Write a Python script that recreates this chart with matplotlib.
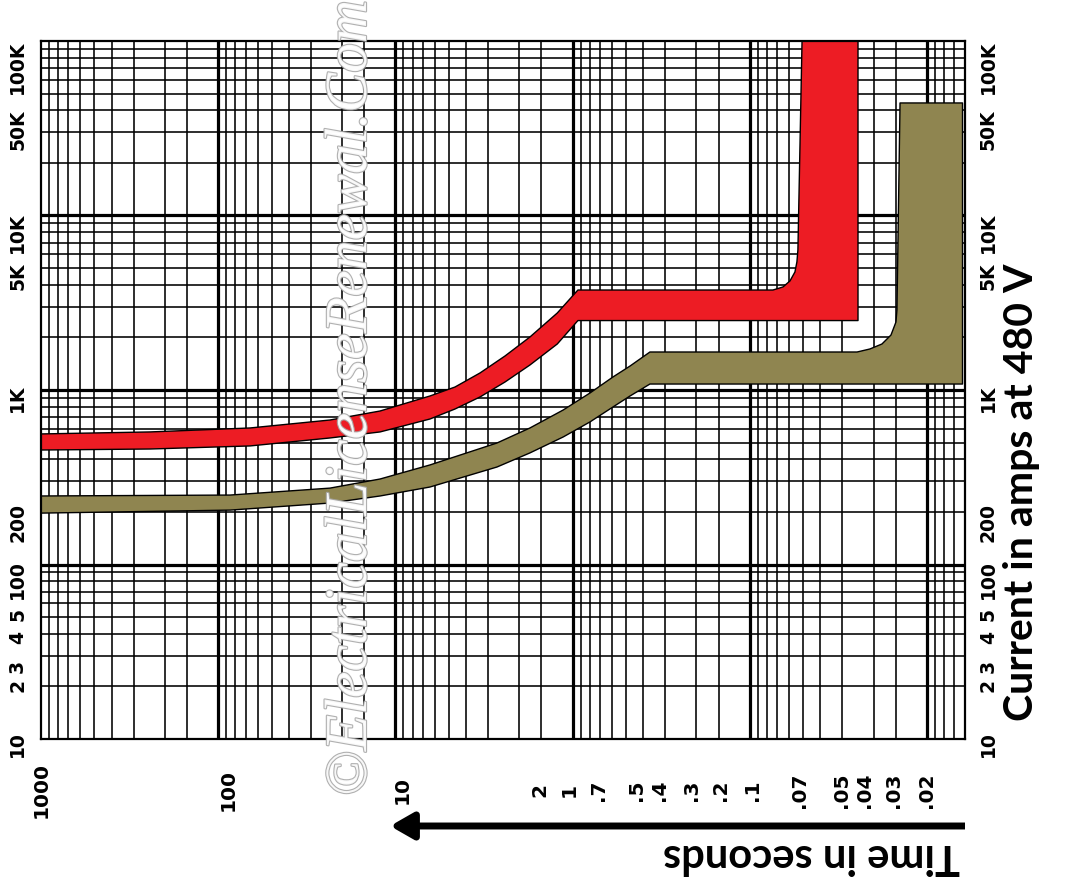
import matplotlib
matplotlib.use("Agg")
import matplotlib.pyplot as plt
import matplotlib.patheffects as pe
from matplotlib.patches import FancyArrowPatch
from matplotlib.ticker import NullLocator

# ---------------- data (time in s, current in A) ----------------
red_upper_t = [1000, 242.6, 66.1, 23.4, 12.2, 6.38, 4.61, 3.33, 2.407, 1.74, 1.22, 0.933,
               0.074, 0.065, 0.0593, 0.0556, 0.0542, 0.0535, 0.0507]
red_upper_i = [560, 575, 606, 673, 758, 924, 1040, 1252, 1566, 2013, 2762, 3741,
               3741, 3893, 4217, 4747, 5417, 6345, 100000]
red_lower_t = [1000, 242.6, 66.1, 23.4, 12.2, 6.38, 4.61, 3.33, 2.407, 1.74, 1.22, 0.933,
               0.0245, 0.0245]
red_lower_i = [453, 459, 478, 531, 575, 682, 778, 912, 1111, 1391, 1835, 2500,
               2500, 100000]

olive_upper_t = [1000, 85.7, 23.4, 12.2, 6.38, 2.67, 1.74, 1.13, 0.798, 0.592, 0.474, 0.366,
                 0.0248, 0.0210, 0.01795, 0.01596, 0.01496, 0.01477, 0.01419]
olive_upper_i = [247, 250, 274, 309, 372, 497, 606, 768, 961, 1187, 1372, 1651,
                 1651, 1718, 1835, 2066, 2453, 2873, 44150]
olive_lower_t = [1000, 85.7, 23.4, 12.2, 6.38, 2.67, 1.74, 1.13, 0.798, 0.592, 0.474, 0.366,
                 0.0063, 0.0063]
olive_lower_i = [197, 205, 225, 247, 278, 362, 436, 538, 656, 799, 924, 1082,
                 1082, 44150]

# tick labels (placed where they appear on the source chart)
time_tick_pos = [1000, 88, 9.18, 1.53, 1.047, 0.71, 0.433, 0.325, 0.212, 0.1455,
                 0.0959, 0.0521, 0.0302, 0.0224, 0.01535, 0.0100]
time_tick_labels = ["1000", "100", "10", "2", "1", ".7", ".5", ".4", ".3", ".2",
                    ".1", ".07", ".05", ".04", ".03", ".02"]
current_tick_pos = [10.1, 19.9, 25.9, 37.9, 50.7, 95.5, 205, 974, 4870, 9420, 36700, 91200]
current_tick_labels = ["10", "2", "3", "4", "5", "100", "200", "1K", "5K", "10K", "50K", "100K"]

RED = "#ED1C24"
OLIVE = "#8F8550"

W, H = 1067, 890
fig = plt.figure(figsize=(W / 100, H / 100), dpi=100)
fig.patch.set_facecolor("white")
L, R, T, B = 41, 965, 41, 739
ax = fig.add_axes([L / W, 1 - B / H, (R - L) / W, (B - T) / H])
ax.set_xscale("log")
ax.set_yscale("log")
ax.set_xlim(1000, 0.0061)
ax.set_ylim(10, 100000)

# log-paper grid
t_lo, t_hi = 0.0061, 1000
for e in range(-3, 3):
    for m in [1, 1.5, 2, 3, 4, 5, 6, 7, 8, 9]:
        v = m * 10.0 ** e
        if t_lo < v < t_hi:
            ax.axvline(v, color="black", lw=2.3 if m == 1 else 1.15, zorder=1)
for e in range(1, 5):
    for m in range(1, 10):
        v = m * 10.0 ** e
        if 10 < v < 100000:
            ax.axhline(v, color="black", lw=2.3 if m == 1 else 1.15, zorder=1)

# bands
for ut, ui, lt, li, col in [
    (red_upper_t, red_upper_i, red_lower_t, red_lower_i, RED),
    (olive_upper_t, olive_upper_i, olive_lower_t, olive_lower_i, OLIVE),
]:
    xs = list(ut) + list(lt)[::-1]
    ys = list(ui) + list(li)[::-1]
    ax.fill(xs, ys, facecolor=col, edgecolor="black", lw=1.0, zorder=3,
            joinstyle="round")

for s in ax.spines.values():
    s.set_linewidth(1.6)
    s.set_zorder(5)

ax.xaxis.set_minor_locator(NullLocator())
ax.yaxis.set_minor_locator(NullLocator())
ax.set_xticks(time_tick_pos)
ax.set_xticklabels(time_tick_labels)
ax.set_yticks(current_tick_pos)
ax.set_yticklabels(current_tick_labels)
ax.tick_params(axis="x", length=0, pad=37, labelrotation=90, labelsize=14.5)
ax.tick_params(axis="y", length=0, pad=10, labelrotation=90, labelsize=13.5,
               labelleft=True, labelright=True)
for lab in ax.get_xticklabels():
    lab.set_fontweight("bold")
    lab.set_va("center")
for lab in ax.get_yticklabels():
    lab.set_fontweight("bold")

# axis titles
fig.text(1021 / W, 1 - 492 / H, "Current in amps at 480 V", rotation=90,
         ha="center", va="center", fontsize=29.5, fontweight="bold", family="Lato")
fig.text(812 / W, 1 - 856 / H, "Time in seconds", rotation=180,
         ha="center", va="center", fontsize=30, fontweight="bold", family="Lato")

# arrow
arr = FancyArrowPatch(
    (965 / W, 1 - 826 / H), (390 / W, 1 - 826 / H), transform=fig.transFigure,
    arrowstyle="-|>,head_length=0.7,head_width=0.4", mutation_scale=20,
    lw=5, color="black", shrinkA=0, shrinkB=0, capstyle="butt")
fig.add_artist(arr)

# watermark
wm = fig.text(352 / W, 1 - 398 / H, "\u00a9ElectricalLicenseRenewal.Com", rotation=90,
              ha="center", va="center", fontsize=43, style="italic",
              family="Liberation Serif", color="white", alpha=0.9, zorder=10)
wm.set_path_effects([pe.withStroke(linewidth=1.6, foreground="#a8a8a8")])

fig.savefig("out.png", dpi=100, facecolor="white")
